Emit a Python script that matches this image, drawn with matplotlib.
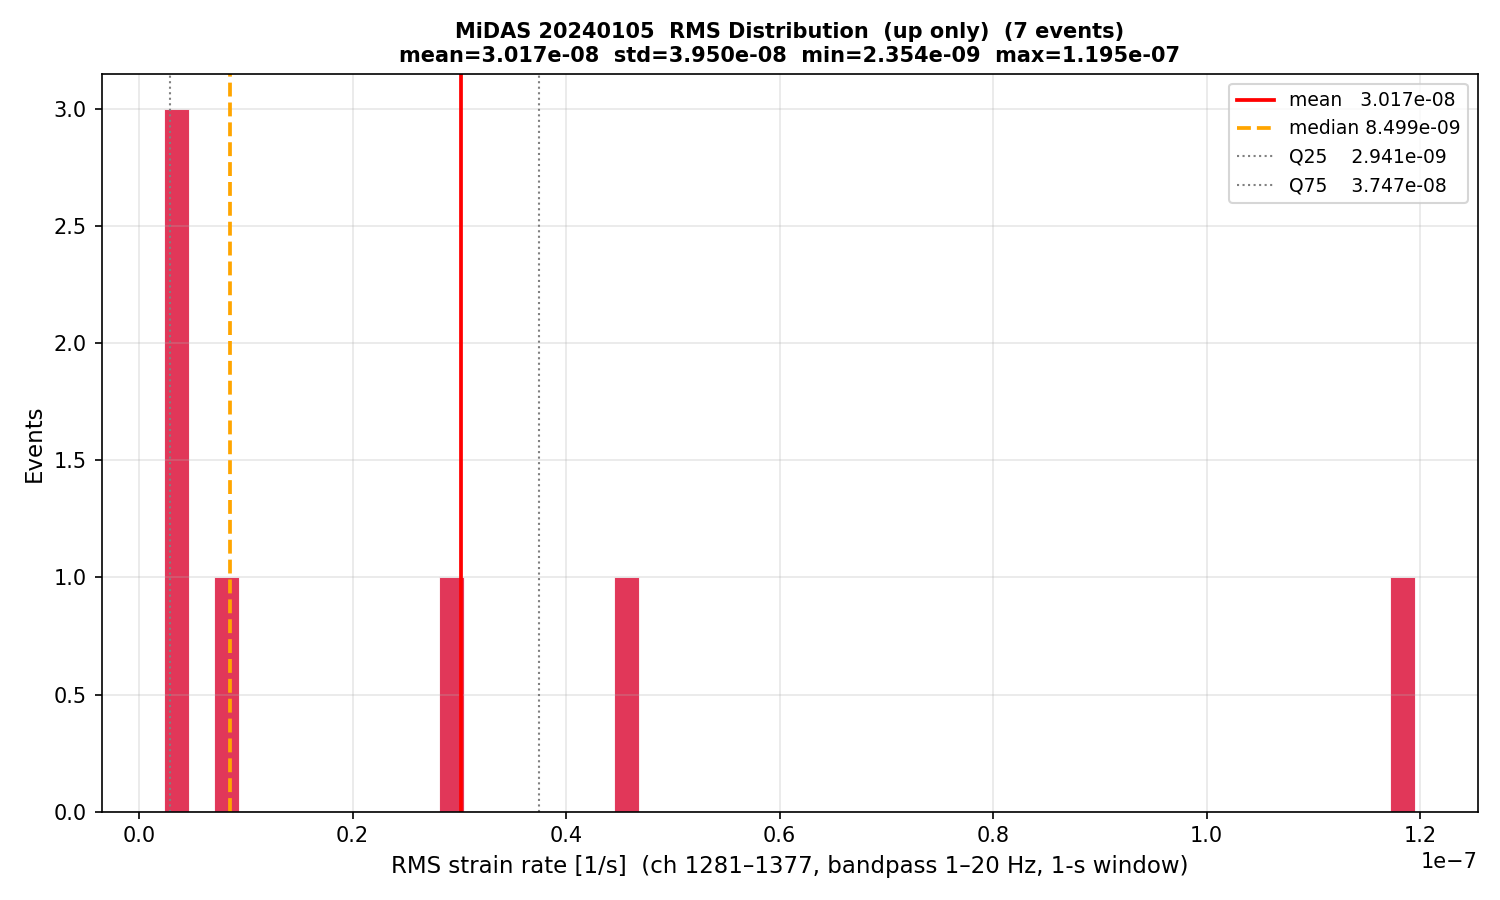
import matplotlib
matplotlib.use("Agg")
import matplotlib.pyplot as plt
import numpy as np

# RMS-Werte der 7 Ereignisse (up only)
rms_values = [2.354e-9, 2.70e-9, 3.182e-9, 8.499e-9, 3.00e-8, 4.494e-8, 1.195e-7]
n_bins = 50

# Statistik (aus Legende)
mean_val = 3.017e-8
median_val = 8.499e-9
q25_val = 2.941e-9
q75_val = 3.747e-8
std_val = 3.950e-8
min_val = 2.354e-9
max_val = 1.195e-7

fig, ax = plt.subplots(figsize=(10, 6), dpi=150)

ax.hist(rms_values, bins=n_bins, color="crimson", alpha=0.85,
        edgecolor="white", linewidth=0.5)

ax.axvline(mean_val, color="red", lw=1.8, label=f"{'mean':<6} {mean_val:.3e}")
ax.axvline(median_val, color="orange", lw=1.8, ls="--", label=f"{'median':<6} {median_val:.3e}")
ax.axvline(q25_val, color="gray", lw=1, ls=":", label=f"{'Q25':<6} {q25_val:.3e}")
ax.axvline(q75_val, color="gray", lw=1, ls=":", label=f"{'Q75':<6} {q75_val:.3e}")

ax.set_xlabel("RMS strain rate [1/s]  (ch 1281\u20131377, bandpass 1\u201320 Hz, 1-s window)", fontsize=11)
ax.set_ylabel("Events", fontsize=11)
ax.set_title(f"MiDAS 20240105  RMS Distribution  (up only)  ({len(rms_values)} events)\n"
             f"mean={mean_val:.3e}  std={std_val:.3e}  min={min_val:.3e}  max={max_val:.3e}",
             fontsize=10, fontweight="bold")
ax.grid(alpha=0.3)
ax.legend(fontsize=9, loc="upper right")

plt.tight_layout()
plt.savefig("out.png", dpi=150)
